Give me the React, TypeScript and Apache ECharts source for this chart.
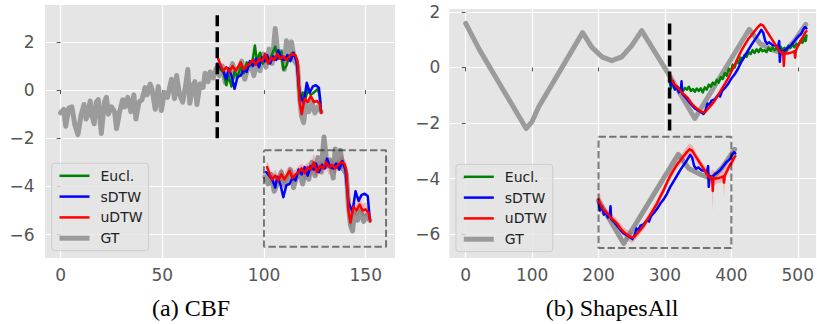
import React, { useEffect, useRef } from 'react';
import * as echarts from 'echarts';

// ---------- (a) CBF ----------
const cbfXTicks = [0, 50, 100, 150];
const cbfYTicks = [-6, -4, -2, 0, 2];

const cbfGT: number[][] = [
  [0, -0.95], [1.5, -0.8], [2.5, -1.5], [4, -0.75], [5.5, -0.7], [7, -1.45], [8.5, -1.85], [10, -1.05],
  [11.5, -0.6], [12.5, -1.2], [13.5, -1.0], [14.5, -0.45], [15.5, -1.1], [16.5, -1.4], [17.5, -0.5],
  [18.5, -0.4], [20, -1.8], [21.5, -0.5], [22.5, -0.3], [23.5, -1.0], [25, -0.7], [26.5, -0.9],
  [27.5, -1.6], [29, -0.9], [30.5, -0.4], [31.5, -0.7], [33, -0.3], [34.5, -0.9], [36, -0.2],
  [37, -1.2], [38.5, -0.5], [40, -0.4], [41.5, 0.1], [42.5, -0.2], [44, 0.25], [45, 0.0], [46.5, -0.8],
  [48, 0.15], [49.5, -0.85], [51, -0.1], [52.5, -0.3], [54.5, 0.45], [56, -0.35], [57, 0.6], [58.5, -0.2],
  [60, -0.5], [61.5, 0.2], [62.5, 0.85], [63.5, -0.55], [65, 0.2], [66, 0.35], [67, -0.6], [68.5, 0.25],
  [70, 0.1], [71, 0.7], [72.5, 0.35], [73.5, 0.75], [75, 0.5], [76.5, 0.9],
  [78, 0.6], [79.5, 1.0], [81, 0.3], [83, 0.7], [84.5, 1.1], [86, 0.55], [87.5, 0.8], [89, 1.2],
  [90.5, 0.45], [92, 0.9], [93.5, 1.1], [95, 0.6], [96.5, 1.2], [98, 0.8], [99.5, 1.5], [101, 0.95],
  [102.5, 1.7], [104, 1.1], [105.5, 2.55], [107, 1.35], [108.5, 1.6], [110, 0.85], [111, 2.05],
  [112.5, 1.3], [113.5, 2.0], [115, 1.2], [116.5, 1.0], [117.5, -0.3], [118.5, -1.1], [119.5, -1.35],
  [120.5, -0.6], [122, -0.9], [123.5, -0.5], [125, -0.95], [126.5, -0.7], [128, -0.9]
];

const cbfEucl: number[][] = [
  [77, 1.05], [78.5, 0.85], [80, 0.75], [81.5, 0.2], [82.5, 0.6], [84, 0.15], [85.5, 0.75], [87, 0.55],
  [88.5, 0.95], [90, 0.7], [91.5, 1.15], [93, 1.0], [94.5, 1.3], [95.5, 1.85], [96.5, 1.2], [98, 1.55],
  [99.5, 1.1], [101, 1.35], [102.5, 1.2], [104, 1.5], [105.5, 1.8], [107, 1.3], [108.5, 1.6],
  [109.5, 0.85], [111, 1.0], [112.5, 1.4], [114, 1.55], [115.5, 1.35], [116.5, 1.0], [117.5, -0.4],
  [119, -0.1], [120, -0.45], [121.5, 0.0], [123, -0.2], [124.5, -0.1], [126.5, 0.05], [127.5, -0.3], [128, -0.9]
];

const cbfSDTW: number[][] = [
  [77, 1.1], [78.5, 0.95], [80, 0.8], [81.5, 0.45], [82.5, 0.9], [84, 0.6], [85.5, 0.05], [87, 0.55],
  [88.5, 0.6], [90, 0.85], [91.5, 0.75], [93, 1.2], [94.5, 1.0], [96, 1.3], [97.5, 0.95], [99, 1.35],
  [100.5, 1.2], [101.5, 1.45], [103, 1.1], [104.5, 1.4], [106, 1.25], [107, 1.65], [108.5, 1.3],
  [110, 1.25], [111.5, 1.45], [113, 1.2], [114.5, 1.55], [116, 1.2], [117.5, -0.15], [119.5, -0.55],
  [121, 0.3], [122.5, -0.1], [124, 0.15], [125.5, 0.2], [127, 0.1], [128, -0.85]
];

// [x, y, spread]
const cbfUDTW: number[][] = [
  [77.5, 1.3, 0.25], [79, 0.95, 0.3], [80, 0.8, 0.2], [81.5, 0.95, 0.25], [83, 0.75, 0.2], [84.5, 1.0, 0.3],
  [86, 0.8, 0.2], [87.5, 1.0, 0.25], [88.5, 1.15, 0.2], [90, 0.85, 0.3], [91.5, 1.0, 0.2], [93, 1.1, 0.25],
  [94.5, 1.25, 0.2], [96, 1.05, 0.3], [97.5, 1.3, 0.2], [99, 1.2, 0.25], [100.5, 1.5, 0.35], [102, 1.1, 0.3],
  [103.5, 1.35, 0.2], [105, 1.25, 0.3], [106.5, 1.5, 0.25], [108, 1.3, 0.35], [109.5, 1.4, 0.2],
  [111, 1.25, 0.25], [112.5, 1.4, 0.2], [114, 1.5, 0.3], [115.5, 1.45, 0.2], [116.5, 1.2, 0.3],
  [117.5, -0.5, 0.25], [118.5, -1.0, 0.3], [120, -0.35, 0.3], [121.5, -0.5, 0.25], [123, -0.25, 0.3],
  [124.5, -0.5, 0.25], [126, -0.45, 0.3], [127.5, -0.6, 0.2], [128.2, -0.95, 0.2]
];

const cbfForecastStart = 77;
const cbfSplitLine = [[77, 3.1], [77, -2.0]];
const cbfBox = [[100, -2.5], [160, -2.5], [160, -6.5], [100, -6.5], [100, -2.5]];
const cbfInsetShift = [24, -4.5];

// ---------- (b) ShapesAll ----------
const shapesXTicks = [0, 100, 200, 300, 400, 500];
const shapesYTicks = [-6, -4, -2, 0, 2];

const shapesGT: number[][] = [
  [0, 1.58], [21, 0.62], [91, -2.2], [100, -1.95], [110, -1.42], [176, 1.25], [190, 0.72], [205, 0.38],
  [220, 0.24], [235, 0.38], [250, 0.78], [265, 1.32], [307, -0.3], [345, -1.84], [427, 1.37], [443, 0.86],
  [460, 0.65], [478, 0.5], [495, 0.95], [512, 1.55]
];

const shapesEucl: number[][] = [
  [307, -0.5], [309, -0.75], [312, -0.6], [315, -0.78], [318, -0.68], [321, -0.8], [324, -0.72], [327, -0.85],
  [330, -0.74], [333, -0.8], [336, -0.7], [339, -0.85], [342, -0.78], [345, -0.88], [348, -0.76], [351, -0.85],
  [354, -0.75], [357, -0.9], [360, -0.72], [363, -0.8], [366, -0.62], [369, -0.7], [372, -0.55], [375, -0.62],
  [378, -0.45], [381, -0.55], [384, -0.35], [387, -0.42], [390, -0.2], [393, -0.3], [396, -0.05], [399, -0.15],
  [402, 0.1], [405, 0.0], [408, 0.25], [411, 0.15], [414, 0.35], [417, 0.28], [420, 0.45], [423, 0.38],
  [426, 0.55], [429, 0.48], [432, 0.62], [435, 0.52], [438, 0.65], [441, 0.55], [444, 0.68], [447, 0.58],
  [450, 0.62], [453, 0.55], [456, 0.7], [459, 0.6], [462, 0.72], [465, 0.62], [468, 0.7], [471, 0.6],
  [474, 0.75], [477, 0.62], [480, 0.7], [483, 0.6], [486, 0.78], [489, 0.7], [492, 0.82], [495, 0.72],
  [498, 0.85], [501, 0.8], [504, 0.95], [507, 0.88], [510, 1.05], [512, 0.95], [513, 1.15]
];

const shapesSDTW: number[][] = [
  [307, -0.35], [309, -0.65], [312, -0.5], [315, -0.8], [318, -0.7], [321, -0.9], [324, -0.8], [325, -0.5],
  [326, -0.95], [330, -1.05], [335, -1.2], [340, -1.35], [345, -1.48], [350, -1.55], [355, -1.62], [358, -1.68],
  [361, -1.55], [364, -1.3], [367, -1.35], [370, -1.2], [375, -1.15], [380, -1.0], [383, -1.05], [386, -0.85],
  [390, -0.75], [395, -0.6], [400, -0.4], [405, -0.25], [410, -0.05], [415, 0.2], [420, 0.4], [425, 0.6],
  [430, 0.8], [435, 0.98], [440, 1.15], [445, 1.35], [448, 1.25], [451, 0.95], [454, 0.85], [457, 0.9],
  [462, 0.8], [467, 0.78], [470, 0.7], [472, 0.95], [473, 0.2], [474, 0.6], [478, 0.55], [482, 0.65],
  [486, 0.72], [490, 0.8], [495, 0.95], [500, 1.1], [505, 1.2], [508, 1.35], [511, 1.45], [513, 1.4]
];

// [x, y, spread]
const shapesUDTW: number[][] = [
  [307, -0.25, 0.35], [310, -0.45, 0.3], [314, -0.6, 0.2], [318, -0.7, 0.15], [322, -0.8, 0.15], [326, -0.92, 0.15],
  [330, -1.0, 0.15], [335, -1.12, 0.15], [340, -1.3, 0.18], [345, -1.42, 0.15], [350, -1.52, 0.18],
  [355, -1.6, 0.2], [358, -1.62, 0.18], [361, -1.6, 0.15], [365, -1.48, 0.15], [370, -1.35, 0.15],
  [375, -1.2, 0.15], [380, -1.0, 0.15], [385, -0.8, 0.15], [390, -0.6, 0.15], [395, -0.4, 0.15],
  [400, -0.15, 0.15], [405, 0.08, 0.15], [410, 0.35, 0.15], [415, 0.6, 0.15], [420, 0.8, 0.15],
  [425, 1.0, 0.15], [430, 1.15, 0.15], [435, 1.3, 0.18], [440, 1.45, 0.2], [444, 1.55, 0.22], [448, 1.5, 0.2],
  [452, 1.35, 0.18], [456, 1.2, 0.15], [460, 1.05, 0.15], [464, 0.9, 0.15], [468, 0.75, 0.18], [472, 0.6, 0.2],
  [476, 0.5, 0.2], [478, 0.55, 0.3], [479, 0.05, 0.75], [480, 0.5, 0.3], [484, 0.5, 0.2], [488, 0.52, 0.18],
  [492, 0.55, 0.2], [495, 0.58, 0.25], [496, 0.35, 0.55], [497, 0.6, 0.25], [500, 0.75, 0.18],
  [504, 0.95, 0.15], [508, 1.1, 0.15], [511, 1.25, 0.15], [513, 1.3, 0.15]
];

const shapesForecastStart = 307;
const shapesSplitLine = [[307, 1.58], [307, -2.32]];
const shapesBox = [[200, -2.5], [400, -2.5], [400, -6.5], [200, -6.5], [200, -2.5]];
const shapesInsetShift = [-107, -4.5];

const legendNames = ['Eucl.', 'sDTW', 'uDTW', 'GT'];

// ---------- helpers ----------
const moved = (pts: number[][], d: number[]) => pts.map((p) => [p[0] + d[0], p[1] + d[1]]);
const xy = (pts: number[][]) => pts.map((p) => [p[0], p[1]]);

const C_GREEN = '#008000';
const C_BLUE = '#0000ff';
const C_RED = '#ff0000';
const C_GT = '#9b9b9b';
const C_GT_INSET = 'rgba(95,95,95,0.6)';

function lineSeries(name: string, data: number[][], idx: number, color: string, width: number, z: number, type: any = 'solid', round = true) {
  return {
    type: 'line', name, data, xAxisIndex: idx, yAxisIndex: idx,
    symbol: 'none', showSymbol: false, silent: true, z,
    lineStyle: round ? { color, width, type, cap: 'round', join: 'round' } : { color, width, type },
    itemStyle: { color },
    animation: false
  };
}

function bandSeries(name: string, pts: number[][], idx: number) {
  return {
    type: 'custom', name, xAxisIndex: idx, yAxisIndex: idx, silent: true, z: 2,
    data: pts.map((p) => [p[0], p[1] - p[2], p[1] + p[2]]),
    encode: { x: 0, y: [1, 2] },
    renderItem: (params: any, api: any) => {
      if (params.dataIndex !== 0) return null;
      const upper = pts.map((p) => api.coord([p[0], p[1] + p[2]]));
      const lower = pts.map((p) => api.coord([p[0], p[1] - p[2]])).reverse();
      return {
        type: 'polygon',
        shape: { points: upper.concat(lower) },
        style: { fill: 'rgba(255,0,0,0.22)', stroke: 'none' }
      };
    }
  };
}

function axisCommon(ticks: number[], margin: number) {
  return {
    type: 'value',
    axisLine: { show: false },
    axisTick: { show: true, customValues: ticks, length: 4, lineStyle: { color: '#555555', width: 1 } },
    axisLabel: {
      customValues: ticks, color: '#555555', fontSize: 17, fontFamily: 'DejaVu Sans', margin,
      formatter: (v: number) => String(v).replace('-', '\u2212')
    },
    splitLine: { show: true, lineStyle: { color: '#ffffff', width: 1.2 } }
  };
}

function legendFor(left: number, top: number) {
  return {
    orient: 'vertical', left, top, data: legendNames, selectedMode: false,
    itemWidth: 30, itemHeight: 14, itemGap: 6.8,
    padding: [5.5, 6, 5.5, 5.3],
    backgroundColor: 'rgba(229,229,229,0.8)', borderColor: '#cccccc', borderWidth: 1, borderRadius: 3,
    textStyle: { fontFamily: 'DejaVu Sans', fontSize: 14, color: '#222222', padding: [0, 0, 0, 6] },
    lineStyle: { width: 'inherit', cap: 'butt' },
    itemStyle: { opacity: 0 }
  };
}

export default function App() {
  const ref = useRef<HTMLDivElement>(null);
  useEffect(() => {
    if (!ref.current) return;
    const chart = echarts.init(ref.current, undefined, { renderer: 'svg' });

    const cbfGTWindow = cbfGT.filter((p) => p[0] >= cbfForecastStart - 0.5);
    const shapesGTWindow = shapesGT.filter((p) => p[0] >= shapesForecastStart);

    const option: any = {
      animation: false,
      grid: [
        { left: 45, top: 5, width: 350, height: 253, show: true, backgroundColor: '#e5e5e5', borderWidth: 0 },
        { left: 449.3, top: 9, width: 367, height: 249, show: true, backgroundColor: '#e5e5e5', borderWidth: 0 }
      ],
      xAxis: [
        { ...axisCommon(cbfXTicks, 8.5), gridIndex: 0, min: -7.7, max: 164.4 },
        { ...axisCommon(shapesXTicks, 8.5), gridIndex: 1, min: -24.7, max: 527.6 }
      ],
      yAxis: [
        { ...axisCommon(cbfYTicks, 10.5), gridIndex: 0, min: -6.97, max: 3.53 },
        { ...axisCommon(shapesYTicks, 9), gridIndex: 1, min: -6.86, max: 2.1 }
      ],
      legend: [legendFor(51.7, 163.3), legendFor(456, 164.3)],
      graphic: [
        { type: 'text', x: 191, y: 307.5, style: { text: '(a) CBF', font: '24px "Liberation Serif"', fill: '#000', textAlign: 'center', textVerticalAlign: 'middle' } },
        { type: 'text', x: 612, y: 307.5, style: { text: '(b) ShapesAll', font: '24px "Liberation Serif"', fill: '#000', textAlign: 'center', textVerticalAlign: 'middle' } }
      ],
      series: [
        // CBF main
        lineSeries('GT', cbfGT, 0, C_GT, 5, 2),
        lineSeries('Eucl.', cbfEucl, 0, C_GREEN, 2.5, 3),
        lineSeries('sDTW', cbfSDTW, 0, C_BLUE, 2.5, 3),
        lineSeries('uDTW', xy(cbfUDTW), 0, C_RED, 2.5, 3),
        lineSeries('split a', cbfSplitLine, 0, '#000000', 3.5, 3, [11, 5], false),
        // CBF inset
        bandSeries('band a', moved(cbfUDTW, cbfInsetShift).map((p, i) => [p[0], p[1], cbfUDTW[i][2]]), 0),
        lineSeries('GT inset a', moved(cbfGTWindow, cbfInsetShift), 0, C_GT_INSET, 5, 2),
        lineSeries('sDTW inset a', moved(cbfSDTW, cbfInsetShift), 0, C_BLUE, 2.5, 3),
        lineSeries('uDTW inset a', moved(xy(cbfUDTW), cbfInsetShift), 0, C_RED, 2.5, 3),
        lineSeries('box a', cbfBox, 0, 'rgba(0,0,0,0.5)', 2, 3, [7.4, 3.2], false),
        // ShapesAll main
        lineSeries('GT', shapesGT, 1, C_GT, 5, 2),
        lineSeries('Eucl.', shapesEucl, 1, C_GREEN, 2.5, 3),
        lineSeries('sDTW', shapesSDTW, 1, C_BLUE, 2.5, 3),
        lineSeries('uDTW', xy(shapesUDTW), 1, C_RED, 2.5, 3),
        lineSeries('split b', shapesSplitLine, 1, '#000000', 3.5, 3, [11, 5], false),
        // ShapesAll inset
        bandSeries('band b', moved(shapesUDTW, shapesInsetShift).map((p, i) => [p[0], p[1], shapesUDTW[i][2]]), 1),
        lineSeries('GT inset b', moved(shapesGTWindow, shapesInsetShift), 1, C_GT_INSET, 5, 2),
        lineSeries('sDTW inset b', moved(shapesSDTW, shapesInsetShift), 1, C_BLUE, 2.5, 3),
        lineSeries('uDTW inset b', moved(xy(shapesUDTW), shapesInsetShift), 1, C_RED, 2.5, 3),
        lineSeries('box b', shapesBox, 1, 'rgba(0,0,0,0.5)', 2, 3, [7.4, 3.2], false)
      ]
    };
    chart.setOption(option);
    return () => chart.dispose();
  }, []);

  return <div ref={ref} style={{ position: 'fixed', left: 0, top: 0, width: 817, height: 324, background: '#ffffff' }} />;
}
